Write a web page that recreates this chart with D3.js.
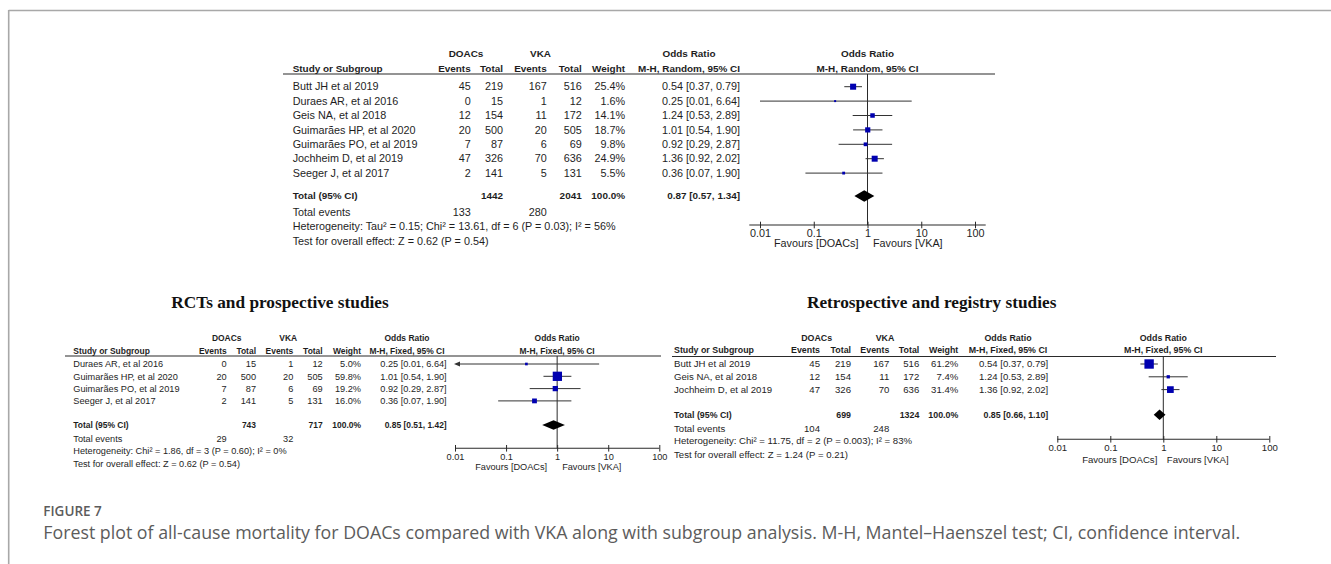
<!DOCTYPE html>
<html>
<head>
<meta charset="utf-8">
<script src="https://cdn.jsdelivr.net/npm/d3@7"></script>
<style>
  html, body { margin: 0; padding: 0; background: #fff; }
  svg { display: block; }
  .t { font-family: "Liberation Sans", Arial, sans-serif; fill: #1e1e1e; }
  .title { font-family: "Liberation Serif", "Times New Roman", serif; font-weight: bold; fill: #111; }
  .cap { font-family: "Open Sans", "Noto Sans", sans-serif; fill: #5c5c5c; }
</style>
</head>
<body>
<div id="chart"></div>
<script>
// ---- all-cause mortality, all studies (random effects)
const allStudies = ["Butt JH et al 2019", "Duraes AR, et al 2016", "Geis NA, et al 2018", "Guimarães HP, et al 2020", "Guimarães PO, et al 2019", "Jochheim D, et al 2019", "Seeger J, et al 2017"];
const allDoacEvents = [45, 0, 12, 20, 7, 47, 2];
const allDoacTotal = [219, 15, 154, 500, 87, 326, 141];
const allVkaEvents = [167, 1, 11, 20, 6, 70, 5];
const allVkaTotal = [516, 12, 172, 505, 69, 636, 131];
const allWeight = [25.4, 1.6, 14.1, 18.7, 9.8, 24.9, 5.5];
const allOR = [0.54, 0.25, 1.24, 1.01, 0.92, 1.36, 0.36];
const allLow = [0.37, 0.01, 0.53, 0.54, 0.29, 0.92, 0.07];
const allHigh = [0.79, 6.64, 2.89, 1.90, 2.87, 2.02, 1.90];
const allSummary = [0.87, 0.57, 1.34];
const allTotals = [1442, 2041];
const allEvents = [133, 280];
const allHet = "Heterogeneity: Tau² = 0.15; Chi² = 13.61, df = 6 (P = 0.03); I² = 56%";
const allTest = "Test for overall effect: Z = 0.62 (P = 0.54)";

// ---- RCTs and prospective studies (fixed effect)
const rctStudies = ["Duraes AR, et al 2016", "Guimarães HP, et al 2020", "Guimarães PO, et al 2019", "Seeger J, et al 2017"];
const rctDoacEvents = [0, 20, 7, 2];
const rctDoacTotal = [15, 500, 87, 141];
const rctVkaEvents = [1, 20, 6, 5];
const rctVkaTotal = [12, 505, 69, 131];
const rctWeight = [5.0, 59.8, 19.2, 16.0];
const rctOR = [0.25, 1.01, 0.92, 0.36];
const rctLow = [0.01, 0.54, 0.29, 0.07];
const rctHigh = [6.64, 1.90, 2.87, 1.90];
const rctSummary = [0.85, 0.51, 1.42];
const rctTotals = [743, 717];
const rctEvents = [29, 32];
const rctHet = "Heterogeneity: Chi² = 1.86, df = 3 (P = 0.60); I² = 0%";
const rctTest = "Test for overall effect: Z = 0.62 (P = 0.54)";

// ---- Retrospective and registry studies (fixed effect)
const retroStudies = ["Butt JH et al 2019", "Geis NA, et al 2018", "Jochheim D, et al 2019"];
const retroDoacEvents = [45, 12, 47];
const retroDoacTotal = [219, 154, 326];
const retroVkaEvents = [167, 11, 70];
const retroVkaTotal = [516, 172, 636];
const retroWeight = [61.2, 7.4, 31.4];
const retroOR = [0.54, 1.24, 1.36];
const retroLow = [0.37, 0.53, 0.92];
const retroHigh = [0.79, 2.89, 2.02];
const retroSummary = [0.85, 0.66, 1.10];
const retroTotals = [699, 1324];
const retroEvents = [104, 248];
const retroHet = "Heterogeneity: Chi² = 11.75, df = 2 (P = 0.003); I² = 83%";
const retroTest = "Test for overall effect: Z = 1.24 (P = 0.21)";

const tickValues = [0.01, 0.1, 1, 10, 100];
const tickLabels = ["0.01", "0.1", "1", "10", "100"];
const favourLabels = ["Favours [DOACs]", "Favours [VKA]"];

(function () {
  const W = 1331, H = 564;
  const svg = d3.select("#chart").append("svg").attr("width", W).attr("height", H);

  // figure frame (top + left rule)
  svg.append("line").attr("x1", 8.7).attr("x2", W).attr("y1", 10.5).attr("y2", 10.5)
    .attr("stroke", "#a8a8a8").attr("stroke-width", 1.6);
  svg.append("line").attr("x1", 8.7).attr("x2", 8.7).attr("y1", 10).attr("y2", H)
    .attr("stroke", "#a8a8a8").attr("stroke-width", 1.6);

  // bold RevMan text renders a little narrower than the plain text
  function txt(g, x, y, s, anchor, bold, size) {
    return g.append("text").attr("class", "t")
      .attr("x", x).attr("y", y).attr("dy", "0.35em")
      .attr("text-anchor", anchor || "start")
      .attr("font-size", bold ? size * 0.92 : size)
      .attr("font-weight", bold ? "bold" : "normal")
      .text(s);
  }

  function fmtOR(v, lo, hi) {
    return v.toFixed(2) + " [" + lo.toFixed(2) + ", " + hi.toFixed(2) + "]";
  }

  function drawPanel(d, L) {
    const g = svg.append("g");
    const fs = L.font;
    const c = L.cols;
    const rowY = (i) => L.yRow0 + i * L.rowStep;

    if (L.title) {
      g.append("text").attr("class", "title").attr("x", L.titleX).attr("y", L.titleY)
        .attr("text-anchor", "middle").attr("font-size", 17.3).text(L.title);
    }

    // headers
    txt(g, L.grpHead[0], L.yGrp, "DOACs", "middle", true, fs);
    txt(g, L.grpHead[1], L.yGrp, "VKA", "middle", true, fs);
    txt(g, L.orHeadX, L.yGrp, "Odds Ratio", "middle", true, fs);
    txt(g, L.orHeadX, L.yCol, "M-H, " + L.method + ", 95% CI", "middle", true, fs);
    txt(g, L.nameX, L.yCol, "Study or Subgroup", "start", true, fs);
    ["Events", "Total", "Events", "Total", "Weight"].forEach((h, i) => txt(g, c[i], L.yCol, h, "end", true, fs));

    const x = d3.scaleLog().domain([0.01, 100]).range([L.x0, L.x1]);
    txt(g, x(1), L.yGrp, "Odds Ratio", "middle", true, fs);
    txt(g, x(1), L.yCol, "M-H, " + L.method + ", 95% CI", "middle", true, fs);

    g.append("line").attr("x1", L.lineX[0]).attr("x2", L.lineX[1])
      .attr("y1", L.yLine).attr("y2", L.yLine).attr("stroke", "#2a2a2a").attr("stroke-width", 1.2);

    // study rows
    d.studies.forEach((s, i) => {
      const y = rowY(i);
      txt(g, L.nameX, y, s, "start", false, fs);
      txt(g, c[0], y, d.doacEv[i], "end", false, fs);
      txt(g, c[1], y, d.doacTot[i], "end", false, fs);
      txt(g, c[2], y, d.vkaEv[i], "end", false, fs);
      txt(g, c[3], y, d.vkaTot[i], "end", false, fs);
      txt(g, c[4], y, d.weight[i].toFixed(1) + "%", "end", false, fs);
      txt(g, L.orRight, y, fmtOR(d.or[i], d.lo[i], d.hi[i]), "end", false, fs);
    });

    // totals
    txt(g, L.nameX, L.yTotal, "Total (95% CI)", "start", true, fs);
    txt(g, c[1], L.yTotal, d.totals[0], "end", true, fs);
    txt(g, c[3], L.yTotal, d.totals[1], "end", true, fs);
    txt(g, c[4], L.yTotal, "100.0%", "end", true, fs);
    txt(g, L.orRight, L.yTotal, fmtOR(d.summary[0], d.summary[1], d.summary[2]), "end", true, fs);
    txt(g, L.nameX, L.yEvents, "Total events", "start", false, fs);
    txt(g, c[0], L.yEvents, d.events[0], "end", false, fs);
    txt(g, c[2], L.yEvents, d.events[1], "end", false, fs);
    txt(g, L.nameX, L.yHet, d.het, "start", false, fs);
    txt(g, L.nameX, L.yTest, d.test, "start", false, fs);

    // plot: line of no effect
    g.append("line").attr("x1", x(1)).attr("x2", x(1)).attr("y1", L.yLine).attr("y2", L.yAxis)
      .attr("stroke", "#2a2a2a").attr("stroke-width", 1);

    const axisMin = x.invert(L.x0 - L.ext);
    d.studies.forEach((s, i) => {
      const y = rowY(i);
      const arrow = d.lo[i] <= axisMin;
      const xl = arrow ? L.x0 + 4 : x(d.lo[i]);
      g.append("line").attr("x1", xl).attr("x2", x(d.hi[i])).attr("y1", y).attr("y2", y)
        .attr("stroke", "#333").attr("stroke-width", 1);
      if (arrow) {
        g.append("path")
          .attr("d", `M${L.x0 - 1},${y} L${L.x0 + 5},${y - 2.6} L${L.x0 + 5},${y + 2.6} Z`)
          .attr("fill", "#333");
      }
      const side = Math.max(2, 1.2 * Math.sqrt(d.weight[i]));
      g.append("rect").attr("x", x(d.or[i]) - side / 2).attr("y", y - side / 2)
        .attr("width", side).attr("height", side).attr("fill", "#0000b0");
    });

    // summary diamond
    const dy = L.yTotal, dh = L.diamondH;
    g.append("path")
      .attr("d", `M${x(d.summary[1])},${dy} L${x(d.summary[0])},${dy - dh} L${x(d.summary[2])},${dy} L${x(d.summary[0])},${dy + dh} Z`)
      .attr("fill", "#000");

    // axis
    const axisG = g.append("g").attr("transform", `translate(0,${L.yAxis})`)
      .call(d3.axisBottom(x).tickValues(tickValues).tickFormat((v, i) => tickLabels[i]).tickSizeOuter(0));
    axisG.select(".domain").remove();
    axisG.selectAll(".tick line").attr("y1", -3.3).attr("y2", 3.3).attr("stroke", "#2a2a2a");
    axisG.selectAll(".tick text").attr("class", "t").attr("y", L.yTick - L.yAxis).attr("dy", "0.35em")
      .attr("font-size", fs).attr("fill", "#1e1e1e");
    axisG.attr("font-family", null).attr("font-size", null);
    g.append("line").attr("x1", L.x0 - L.ext).attr("x2", L.x1 + L.ext)
      .attr("y1", L.yAxis).attr("y2", L.yAxis).attr("stroke", "#2a2a2a").attr("stroke-width", 1.1);

    txt(g, x(1) - L.favGap[0], L.yFav, favourLabels[0], "end", false, fs);
    txt(g, x(1) + L.favGap[1], L.yFav, favourLabels[1], "start", false, fs);
  }

  drawPanel({
    studies: allStudies, doacEv: allDoacEvents, doacTot: allDoacTotal, vkaEv: allVkaEvents, vkaTot: allVkaTotal,
    weight: allWeight, or: allOR, lo: allLow, hi: allHigh, summary: allSummary, totals: allTotals,
    events: allEvents, het: allHet, test: allTest
  }, {
    font: 10.8, method: "Random", nameX: 292.7, cols: [470.7, 503, 546.7, 581.7, 625], orRight: 740, orHeadX: 689,
    grpHead: [466, 540.5], x0: 760, x1: 975, ext: 10.7, lineX: [283, 995],
    yGrp: 53.3, yCol: 68.3, yLine: 74, yRow0: 86.7, rowStep: 14.4, yTotal: 196, yEvents: 212.3,
    yHet: 226.7, yTest: 241, yAxis: 225, yTick: 233.3, yFav: 243.3, diamondH: 5.8, favGap: [9, 5.5]
  });

  drawPanel({
    studies: rctStudies, doacEv: rctDoacEvents, doacTot: rctDoacTotal, vkaEv: rctVkaEvents, vkaTot: rctVkaTotal,
    weight: rctWeight, or: rctOR, lo: rctLow, hi: rctHigh, summary: rctSummary, totals: rctTotals,
    events: rctEvents, het: rctHet, test: rctTest
  }, {
    title: "RCTs and prospective studies", titleX: 280, titleY: 308.3,
    font: 9.2, method: "Fixed", nameX: 73.3, cols: [226.7, 256, 293.3, 322.7, 361], orRight: 446.7, orHeadX: 407,
    grpHead: [226.7, 288.3], x0: 455, x1: 659.3, ext: 0, lineX: [65, 661],
    yGrp: 338.3, yCol: 350.7, yLine: 356, yRow0: 364, rowStep: 12.3, yTotal: 425, yEvents: 438.3,
    yHet: 450.7, yTest: 463.3, yAxis: 448.3, yTick: 456.7, yFav: 466.7, diamondH: 4.7, favGap: [10, 5]
  });

  drawPanel({
    studies: retroStudies, doacEv: retroDoacEvents, doacTot: retroDoacTotal, vkaEv: retroVkaEvents, vkaTot: retroVkaTotal,
    weight: retroWeight, or: retroOR, lo: retroLow, hi: retroHigh, summary: retroSummary, totals: retroTotals,
    events: retroEvents, het: retroHet, test: retroTest
  }, {
    title: "Retrospective and registry studies", titleX: 931.7, titleY: 308.3,
    font: 9.6, method: "Fixed", nameX: 674, cols: [820, 851, 889.3, 919.3, 958.3], orRight: 1048.3, orHeadX: 1008,
    grpHead: [816.7, 885], x0: 1057.3, x1: 1269.3, ext: 0, lineX: [672, 1276],
    yGrp: 338, yCol: 350, yLine: 356.5, yRow0: 364, rowStep: 12.8, yTotal: 414.7, yEvents: 428.3,
    yHet: 441, yTest: 454.3, yAxis: 439.3, yTick: 447.3, yFav: 459.3, diamondH: 5.3, favGap: [6, 3.5]
  });

  // caption
  svg.append("text").attr("class", "cap").attr("x", 43.3).attr("y", 515.5)
    .attr("font-size", 13.5).attr("font-weight", 600).attr("fill", "#555").text("FIGURE 7");
  svg.append("text").attr("class", "cap").attr("x", 43.3).attr("y", 539)
    .attr("font-size", 17.8)
    .text("Forest plot of all-cause mortality for DOACs compared with VKA along with subgroup analysis. M-H, Mantel–Haenszel test; CI, confidence interval.");
})();
</script>
</body>
</html>
